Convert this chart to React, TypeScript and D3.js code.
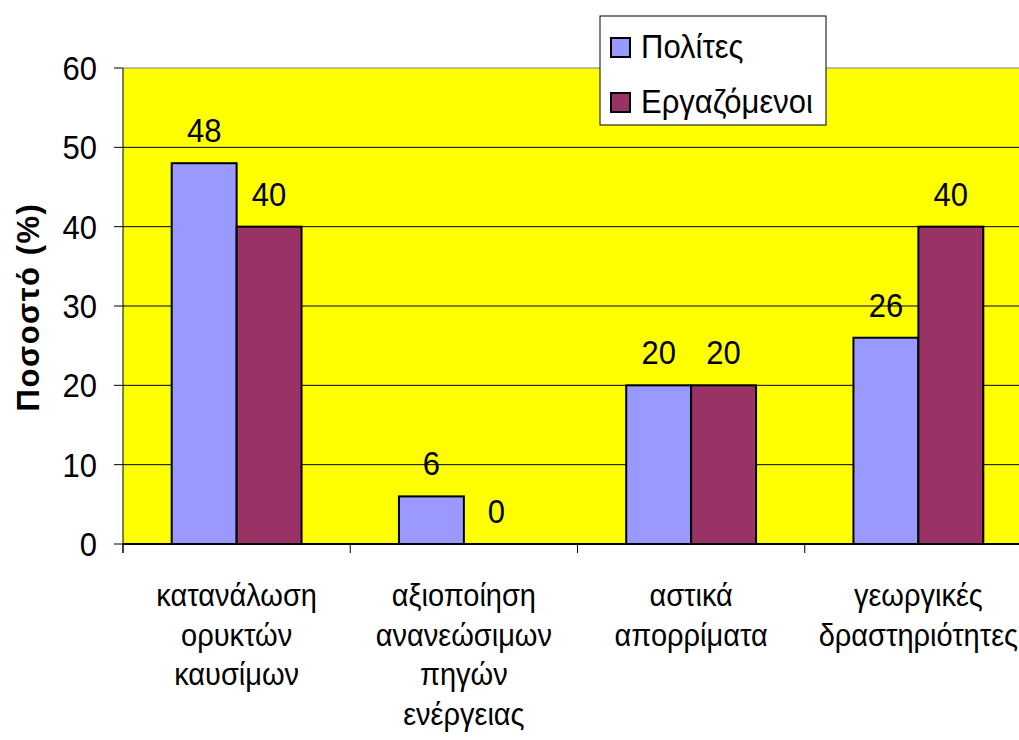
import React from "react";
import * as d3 from "d3";

// Chart data
const categories: string[][] = [
  ["κατανάλωση", "ορυκτών", "καυσίμων"],
  ["αξιοποίηση", "ανανεώσιμων", "πηγών", "ενέργειας"],
  ["αστικά", "απορρίματα"],
  ["γεωργικές", "δραστηριότητες"],
];
const seriesNames = ["Πολίτες", "Εργαζόμενοι"];
const politesValues = [48, 6, 20, 26];
const ergazomenoiValues = [40, 0, 20, 40];
const yTicks = [0, 10, 20, 30, 40, 50, 60];
const seriesColors = ["#9999FF", "#993366"];
const yTitle = "Ποσοστό (%)";

const W = 1019;
const H = 740;
const plot = { left: 123, right: 1032, top: 68, bottom: 544 };
const FONT = "'Liberation Sans', Arial, sans-serif";

// Text drawn slightly taller than wide, anchored at its baseline
function Tall(props: {
  x: number;
  y: number;
  anchor?: "start" | "middle" | "end";
  size: number;
  stretch?: number;
  children: React.ReactNode;
}) {
  return (
    <g transform={`translate(${props.x},${props.y}) scale(1,${props.stretch ?? 1.1})`}>
      <text x={0} y={0} textAnchor={props.anchor ?? "start"} fontSize={props.size} fill="#000">
        {props.children}
      </text>
    </g>
  );
}

export default function App() {
  const catIdx = categories.map((_, i) => String(i));
  const x0 = d3
    .scaleBand<string>()
    .domain(catIdx)
    .range([plot.left, plot.right])
    .paddingInner(0)
    .paddingOuter(0);
  // two bars per category with a 150% gap between groups
  const x1 = d3
    .scaleBand<string>()
    .domain(["0", "1"])
    .range([0, x0.bandwidth()])
    .paddingOuter(0.75)
    .paddingInner(0);
  const y = d3.scaleLinear().domain([0, 60]).range([plot.bottom, plot.top]);

  const series = [politesValues, ergazomenoiValues];
  const catTickXs = categories.map((_, i) => x0(String(i)) as number).concat([plot.right]);

  return (
    <svg
      width={W}
      height={H}
      style={{ position: "absolute", left: 0, top: 0, background: "#fff" }}
      fontFamily={FONT}
    >
      {/* plot background */}
      <rect
        x={plot.left}
        y={plot.top}
        width={plot.right - plot.left}
        height={plot.bottom - plot.top}
        fill="#FFFF00"
      />
      <line x1={plot.left} x2={plot.right} y1={plot.top} y2={plot.top} stroke="#808080" strokeWidth={1} />

      {/* gridlines and y ticks */}
      {yTicks.map((t) => (
        <g key={t}>
          {t > 0 && t < 60 && (
            <line x1={plot.left} x2={plot.right} y1={y(t)} y2={y(t)} stroke="#000" strokeWidth={1} />
          )}
          <line x1={plot.left - 9} x2={plot.left} y1={y(t)} y2={y(t)} stroke="#000" strokeWidth={1} />
          <Tall x={97} y={y(t) + 12} anchor="end" size={31}>
            {t}
          </Tall>
        </g>
      ))}

      {/* bars */}
      {categories.map((_, ci) =>
        series.map((vals, si) => {
          const bx = (x0(String(ci)) as number) + (x1(String(si)) as number);
          const v = vals[ci];
          return (
            <g key={`${ci}-${si}`}>
              {v > 0 && (
                <rect
                  x={bx}
                  y={y(v)}
                  width={x1.bandwidth()}
                  height={y(0) - y(v)}
                  fill={seriesColors[si]}
                  stroke="#000"
                  strokeWidth={2}
                />
              )}
              <Tall x={bx + x1.bandwidth() / 2} y={y(v) - 21} anchor="middle" size={31}>
                {v}
              </Tall>
            </g>
          );
        })
      )}

      {/* axes */}
      <line x1={plot.left} x2={plot.left} y1={plot.top} y2={plot.bottom + 9} stroke="#000" strokeWidth={1} />
      <line x1={plot.left} x2={plot.right} y1={plot.bottom} y2={plot.bottom} stroke="#000" strokeWidth={2} />
      {catTickXs.map((cx, i) => (
        <line key={i} x1={cx} x2={cx} y1={plot.bottom} y2={plot.bottom + 9} stroke="#000" strokeWidth={1} />
      ))}

      {/* category labels */}
      {categories.map((lines, ci) => {
        const cx = (x0(String(ci)) as number) + x0.bandwidth() / 2;
        return (
          <g key={ci}>
            {lines.map((ln, li) => (
              <Tall key={li} x={cx} y={606 + li * 39.5} anchor="middle" size={29} stretch={1.06}>
                {ln}
              </Tall>
            ))}
          </g>
        );
      })}

      {/* y axis title */}
      <text
        transform={`translate(39, 307) rotate(-90)`}
        textAnchor="middle"
        fontSize={31}
        fontWeight="bold"
        letterSpacing={1.5}
        fill="#000"
      >
        {yTitle}
      </text>

      {/* legend */}
      <g>
        <rect x={600} y={16} width={226} height={109} fill="#fff" stroke="#000" strokeWidth={1} />
        {seriesNames.map((name, i) => (
          <g key={name}>
            <rect
              x={611}
              y={38 + i * 55}
              width={19}
              height={19}
              fill={seriesColors[i]}
              stroke="#000"
              strokeWidth={2}
            />
            <Tall x={641} y={58 + i * 55} size={31}>
              {name}
            </Tall>
          </g>
        ))}
      </g>
    </svg>
  );
}
